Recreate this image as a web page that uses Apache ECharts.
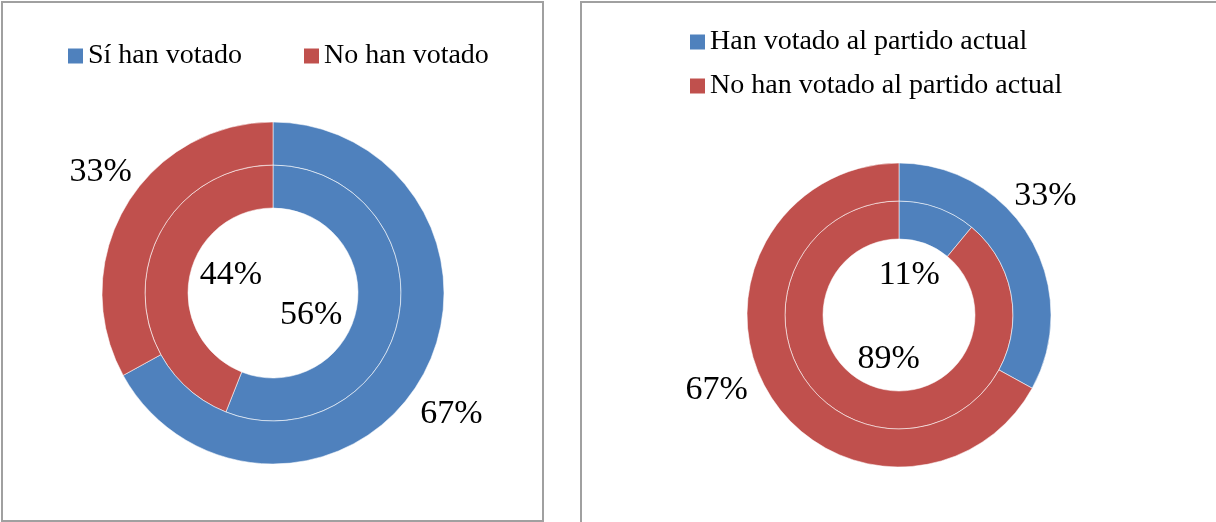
<!DOCTYPE html>
<html>
<head>
<meta charset="utf-8">
<script src="https://cdn.jsdelivr.net/npm/echarts@6/dist/echarts.min.js"></script>
<style>
  html, body { margin: 0; padding: 0; background: #fff; }
  .wrap { position: relative; width: 1216px; height: 522px; overflow: hidden; }
  .panel { position: absolute; border: 2px solid #a0a0a0; box-sizing: border-box; }
  #chart { position: absolute; left: 0; top: 0; width: 1216px; height: 522px; }
</style>
</head>
<body>
<div class="wrap">
  <div class="panel" style="left:1px; top:1px; width:543px; height:521px;"></div>
  <div class="panel" style="left:580px; top:1px; width:660px; height:540px;"></div>
  <div id="chart"></div>
</div>
<script>
// datos
var leftNames = ['Sí han votado', 'No han votado']
var leftInner = [56, 44]
var leftOuter = [67, 33]

var rightNames = ['Han votado al partido actual', 'No han votado al partido actual']
var rightInner = [11, 89]
var rightOuter = [33, 67]

var colors = ['#4F81BD', '#C0504D']
var font = '"Liberation Serif", "Times New Roman", serif'

function toData (names, vals) {
  return vals.map(function (v, i) {
    return { name: names[i], value: v, itemStyle: { color: colors[i] } }
  })
}

// anillo visible
function ring (names, vals, center, radius) {
  return {
    type: 'pie',
    center: center,
    radius: radius,
    startAngle: 90,
    clockwise: true,
    silent: true,
    label: { show: false },
    labelLine: { show: false },
    itemStyle: { borderColor: 'rgba(255,255,255,0.55)', borderWidth: 1 },
    emphasis: { disabled: true },
    data: toData(names, vals)
  }
}

// serie invisible solo para las etiquetas
function labels (names, vals, center, radius, startAngle, offset) {
  return {
    type: 'pie',
    center: center,
    radius: radius,
    startAngle: startAngle,
    clockwise: true,
    silent: true,
    z: 5,
    itemStyle: { color: 'transparent', borderWidth: 0 },
    label: {
      show: true,
      position: 'inside',
      formatter: '{c}%',
      fontFamily: font,
      fontSize: 34,
      color: '#000',
      offset: offset || [0, 0]
    },
    labelLine: { show: false },
    emphasis: { disabled: true },
    data: vals.map(function (v, i) { return { name: names[i], value: v } })
  }
}

var legendText = { fontFamily: font, fontSize: 28, color: '#000' }

function legendData (names) {
  return names.map(function (n, i) {
    return { name: n, itemStyle: { color: colors[i], borderWidth: 0 } }
  })
}

var option = {
  animation: false,
  legend: [
    {
      left: 63,
      top: 37,
      orient: 'horizontal',
      icon: 'rect',
      itemWidth: 15,
      itemHeight: 15,
      itemGap: 62,
      selectedMode: false,
      textStyle: legendText,
      data: legendData(leftNames)
    },
    {
      left: 685,
      top: 23,
      orient: 'vertical',
      icon: 'rect',
      itemWidth: 15,
      itemHeight: 15,
      itemGap: 16,
      selectedMode: false,
      textStyle: legendText,
      data: legendData(rightNames)
    }
  ],
  series: [
    ring(leftNames, leftInner, [273, 293], [85, 128]),
    ring(leftNames, leftOuter, [273, 293], [128, 171]),
    ring(rightNames, rightInner, [899, 315], [76, 114]),
    ring(rightNames, rightOuter, [899, 315], [114, 152]),
    labels(leftNames, leftInner, [273, 293], [0, 84], 74, [-2, 2]),
    labels(leftNames, leftOuter, [273, 293], [200, 220], 86, [3, 0]),
    labels(rightNames, rightInner, [899, 315], [0, 80], 96, [0, 2]),
    labels(rightNames, rightOuter, [899, 315], [178, 198], 90, [-18, -22])
  ]
}

var chart = echarts.init(document.getElementById('chart'))
chart.setOption(option)
window.addEventListener('resize', function () {
  chart.resize()
})
</script>
</body>
</html>
